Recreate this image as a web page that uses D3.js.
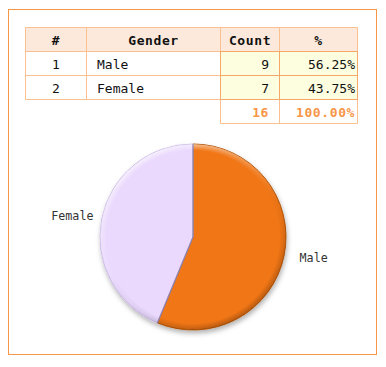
<!DOCTYPE html>
<html><head><meta charset="utf-8">
<script src="https://cdn.jsdelivr.net/npm/d3@7"></script>
<style>body{margin:0;background:#fff;} svg{display:block;}</style>
</head><body>
<script>
const headers = ["#", "Gender", "Count", "%"];
const categories = ["Male", "Female"];
const counts = [9, 7];
const colors = ["#f07612", "#ead9fd"];
const total = d3.sum(counts);
const percents = counts.map(c => (c / total * 100).toFixed(2) + "%");

const W = 386, H = 367;
const svg = d3.select("body").append("svg").attr("width", W).attr("height", H);

const defs = svg.append("defs");
const f = defs.append("filter").attr("id","shadow").attr("x","-20%").attr("y","-20%").attr("width","140%").attr("height","140%");
f.append("feDropShadow").attr("dx",1).attr("dy",3).attr("stdDeviation",2.5).attr("flood-color","#000").attr("flood-opacity",0.3);
const lg = defs.append("linearGradient").attr("id","ring").attr("x1","0.2").attr("y1","0").attr("x2","0.8").attr("y2","1");
lg.append("stop").attr("offset","0").attr("stop-color","#fff").attr("stop-opacity",0.75);
lg.append("stop").attr("offset","0.45").attr("stop-color","#fff").attr("stop-opacity",0.1);
lg.append("stop").attr("offset","0.6").attr("stop-color","#000").attr("stop-opacity",0.05);
lg.append("stop").attr("offset","1").attr("stop-color","#000").attr("stop-opacity",0.3);
const rb = defs.append("radialGradient").attr("id","ringfade").attr("cx","50%").attr("cy","50%").attr("r","50%");
rb.append("stop").attr("offset","0.93").attr("stop-color","#fff").attr("stop-opacity",0);
rb.append("stop").attr("offset","1").attr("stop-color","#fff").attr("stop-opacity",1);
const mask = defs.append("mask").attr("id","ringmask").attr("maskContentUnits","objectBoundingBox");
mask.append("circle").attr("cx",0.5).attr("cy",0.5).attr("r",0.5).attr("fill","url(#ringfade)");

// outer frame
svg.append("rect").attr("x",8.5).attr("y",9.5).attr("width",368).attr("height",345)
  .attr("fill","none").attr("stroke","#f79646").attr("stroke-width",1);

// table
const colX = [25.5, 86.5, 220.5, 279.5, 357.5];
const rowY = [27.5, 51.5, 75.5, 99.5, 123.5];
const tbl = svg.append("g").attr("font-family","'DejaVu Sans Mono', monospace").attr("font-size",13);

tbl.append("rect").attr("x",colX[0]).attr("y",rowY[0]).attr("width",colX[4]-colX[0]).attr("height",24)
  .attr("fill","#fde9db");
categories.forEach((c,i)=>{
  tbl.append("rect").attr("x",colX[2]).attr("y",rowY[i+1]).attr("width",colX[4]-colX[2]).attr("height",24).attr("fill","#fdfedf");
});
const borderCol = "#fac090";
for (let r=0;r<4;r++) tbl.append("line").attr("x1",colX[0]).attr("x2",colX[4]).attr("y1",rowY[r]).attr("y2",rowY[r]).attr("stroke",borderCol);
for (let c=0;c<5;c++) tbl.append("line").attr("x1",colX[c]).attr("x2",colX[c]).attr("y1",rowY[0]).attr("y2",rowY[3]).attr("stroke",borderCol);
categories.forEach((c,i)=>{
  [2,3].forEach(k=>tbl.append("rect").attr("x",colX[k]).attr("y",rowY[i+1]).attr("width",colX[k+1]-colX[k]).attr("height",24)
    .attr("fill","none").attr("stroke","#f5a868"));
});
tbl.append("line").attr("x1",colX[2]).attr("x2",colX[4]).attr("y1",rowY[4]).attr("y2",rowY[4]).attr("stroke",borderCol);
[2,3,4].forEach(c=>tbl.append("line").attr("x1",colX[c]).attr("x2",colX[c]).attr("y1",rowY[3]).attr("y2",rowY[4]).attr("stroke",borderCol));

headers.forEach((h,i)=>{
  tbl.append("text").attr("x",(colX[i]+colX[i+1])/2).attr("y",rowY[0]+17).attr("text-anchor","middle")
    .attr("font-weight","bold").attr("letter-spacing","0.6").attr("fill","#111").text(h);
});
categories.forEach((c,i)=>{
  const yb = rowY[i+1]+17;
  tbl.append("text").attr("x",(colX[0]+colX[1])/2).attr("y",yb).attr("text-anchor","middle").attr("fill","#111").text(i+1);
  tbl.append("text").attr("x",colX[1]+10.5).attr("y",yb).attr("fill","#111").text(c);
  tbl.append("text").attr("x",colX[3]-10.5).attr("y",yb).attr("text-anchor","end").attr("fill","#111").text(counts[i]);
  tbl.append("text").attr("x",colX[4]-2.5).attr("y",yb).attr("text-anchor","end").attr("fill","#111").text(percents[i]);
});
tbl.append("text").attr("x",colX[3]-10.5).attr("y",rowY[3]+17).attr("text-anchor","end").attr("font-weight","bold").attr("letter-spacing","0.6").attr("fill","#f79646").text(total);
tbl.append("text").attr("x",colX[4]-2.5).attr("y",rowY[3]+17).attr("text-anchor","end").attr("font-weight","bold").attr("letter-spacing","0.6").attr("fill","#f79646").text((100).toFixed(2)+"%");

// pie
const cx = 193, cy = 237, R = 93;
const pie = d3.pie().sort(null).value(d=>d)(counts);
const arc = d3.arc().innerRadius(0).outerRadius(R);
const g = svg.append("g").attr("transform",`translate(${cx},${cy})`);
const strokes = ["#b4560a", "#c9b8e6"];
g.append("g").attr("filter","url(#shadow)").selectAll("path").data(pie).join("path")
  .attr("d",arc).attr("fill",(d,i)=>colors[i]).attr("stroke",(d,i)=>strokes[i]).attr("stroke-width",1);
g.append("circle").attr("r",R).attr("fill","url(#ring)").attr("mask","url(#ringmask)").attr("pointer-events","none");
g.selectAll("path.edge").data(pie).join("path").attr("class","edge")
  .attr("d",d=>{const a=d.startAngle; return `M0,0L${R*Math.sin(a)},${-R*Math.cos(a)}`;})
  .attr("stroke","#7d6f95").attr("stroke-width",1.3).attr("fill","none").attr("opacity",0.75);

// labels
const labelArc = d3.arc().innerRadius(123).outerRadius(123);
g.selectAll("text.lbl").data(pie).join("text").attr("class","lbl")
  .attr("transform",d=>{const [x,y]=labelArc.centroid(d); return `translate(${x},${y*0.87})`;})
  .attr("text-anchor","middle").attr("dy","0.35em")
  .attr("font-family","'DejaVu Sans Mono', monospace").attr("font-size",11.7).attr("fill","#333")
  .text((d,i)=>categories[i]);
</script>
</body></html>
